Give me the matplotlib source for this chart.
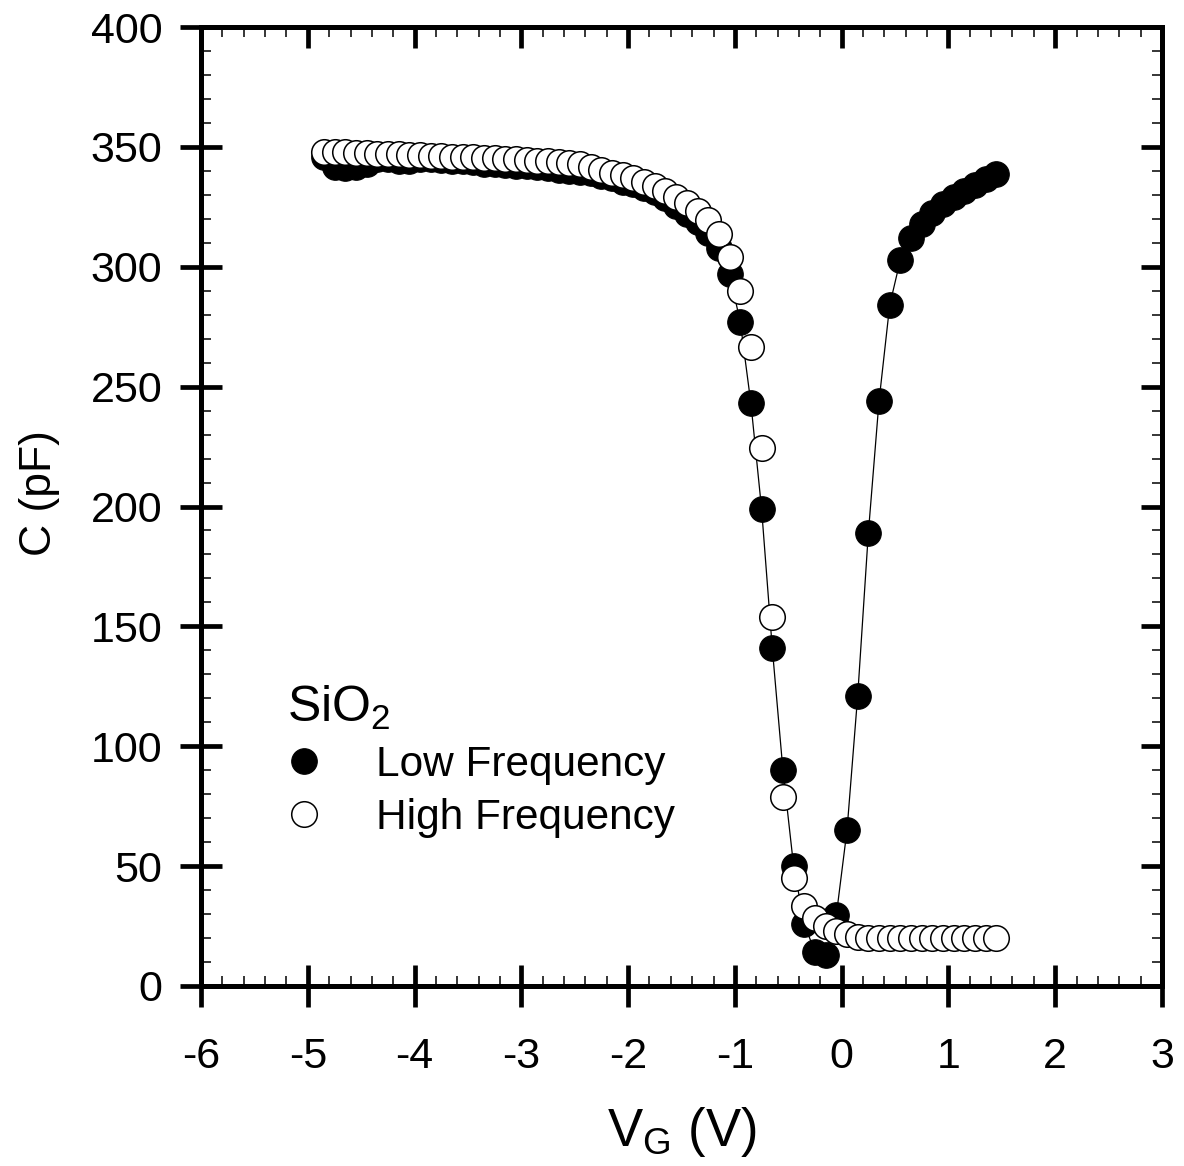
import numpy as np
import matplotlib
matplotlib.use('Agg')
import matplotlib.pyplot as plt
from matplotlib.ticker import MultipleLocator

plt.rcParams['font.family'] = ['Liberation Sans', 'DejaVu Sans']
plt.rcParams['mathtext.fontset'] = 'custom'
plt.rcParams['mathtext.rm'] = 'Liberation Sans'
plt.rcParams['mathtext.it'] = 'Liberation Sans:italic'
plt.rcParams['axes.unicode_minus'] = False

# gate voltage sweep (V)
vg = [-4.85, -4.75, -4.65, -4.55, -4.45, -4.35, -4.25, -4.15, -4.05, -3.95,
      -3.85, -3.75, -3.65, -3.55, -3.45, -3.35, -3.25, -3.15, -3.05, -2.95,
      -2.85, -2.75, -2.65, -2.55, -2.45, -2.35, -2.25, -2.15, -2.05, -1.95,
      -1.85, -1.75, -1.65, -1.55, -1.45, -1.35, -1.25, -1.15, -1.05, -0.95,
      -0.85, -0.75, -0.65, -0.55, -0.45, -0.35, -0.25, -0.15, -0.05, 0.05,
      0.15, 0.25, 0.35, 0.45, 0.55, 0.65, 0.75, 0.85, 0.95, 1.05,
      1.15, 1.25, 1.35, 1.45]

# low frequency C-V (pF)
c_low = [346, 341.5, 341, 341.5, 343, 345, 345, 344, 344, 345,
         345, 344.5, 344, 344, 343.5, 343, 343, 342.5, 342, 342,
         341.5, 341, 340.5, 340, 339.5, 339, 338, 337, 335.5, 334.5,
         333, 331, 328.5, 325.5, 322, 318.5, 314, 308, 297, 277,
         243, 199, 141, 90, 50, 26, 14, 13, 29.5, 65,
         121, 189, 244, 284, 303, 312, 318, 322.5, 326, 329,
         331.5, 334, 336.5, 338.6]

# high frequency C-V (pF)
c_high = [348.0, 347.8, 347.7, 347.5, 347.3, 347.2, 347.0, 346.9, 346.7, 346.5,
          346.4, 346.2, 346.0, 345.8, 345.7, 345.5, 345.3, 345.0, 344.8, 344.6,
          344.3, 344.0, 343.6, 343.2, 342.8, 341.5, 340.5, 339.3, 338.2, 337.0,
          335.5, 333.8, 331.7, 329.2, 326.5, 323.4, 319.5, 313.5, 304.0, 290.0,
          266.5, 224.5, 154.0, 79.0, 45.0, 33.5, 28.5, 25.2, 23.1, 21.6,
          20.6, 20.2, 20.0, 20.0, 20.0, 20.0, 20.0, 20.0, 20.0, 20.0,
          20.0, 20.0, 20.0, 20.0]

fig = plt.figure(figsize=(11.84, 11.66), dpi=100)
ax = fig.add_axes([0.1698, 0.1544, 0.8116, 0.8224])

ax.plot(vg, c_low, '-', color='black', lw=0.9, zorder=2)
ax.plot(vg, c_low, 'o', color='black', ms=18.4, mec='black', mew=0.8,
        label='Low Frequency', zorder=3)
ax.plot(vg, c_high, 'o', color='white', ms=18.4, mec='black', mew=1.1,
        label='High Frequency', zorder=4)

ax.set_xlim(-6, 3)
ax.set_ylim(0, 400)
ax.xaxis.set_major_locator(MultipleLocator(1))
ax.xaxis.set_minor_locator(MultipleLocator(0.2))
ax.yaxis.set_major_locator(MultipleLocator(50))
ax.yaxis.set_minor_locator(MultipleLocator(10))

ax.tick_params(which='major', direction='inout', length=30, width=3.4,
               labelsize=31, top=False, right=False)
ax.tick_params(axis='x', which='major', pad=22)
ax.tick_params(axis='y', which='major', pad=13)
ax.tick_params(which='minor', direction='in', length=7, width=1.1,
               top=False, right=False)

for sp in ax.spines.values():
    sp.set_linewidth(3.6)

# top and right axes: ticks pointing inwards only
secx = ax.secondary_xaxis('top')
secx.xaxis.set_major_locator(MultipleLocator(1))
secx.xaxis.set_minor_locator(MultipleLocator(0.2))
secx.tick_params(which='major', direction='in', length=15, width=3.4, labeltop=False)
secx.tick_params(which='minor', direction='in', length=7, width=1.1)
secx.spines['top'].set_linewidth(3.6)

secy = ax.secondary_yaxis('right')
secy.yaxis.set_major_locator(MultipleLocator(50))
secy.yaxis.set_minor_locator(MultipleLocator(10))
secy.tick_params(which='major', direction='in', length=15, width=3.4, labelright=False)
secy.tick_params(which='minor', direction='in', length=7, width=1.1)
secy.spines['right'].set_linewidth(3.6)

ax.set_xlabel(r'V$\mathregular{_G}$ (V)', fontsize=38, labelpad=20)
ax.set_ylabel('C (pF)', fontsize=32)
ax.yaxis.set_label_coords(-0.147, 0.514)

leg = ax.legend(title=r'SiO$\mathregular{_2}$', loc='upper left',
                bbox_to_anchor=(0.067, 0.337), frameon=False, fontsize=30.5,
                title_fontsize=36, handlelength=0.8, handletextpad=1.3,
                labelspacing=0.3, alignment='left', borderpad=0)

fig.savefig('out.png', dpi=100)
